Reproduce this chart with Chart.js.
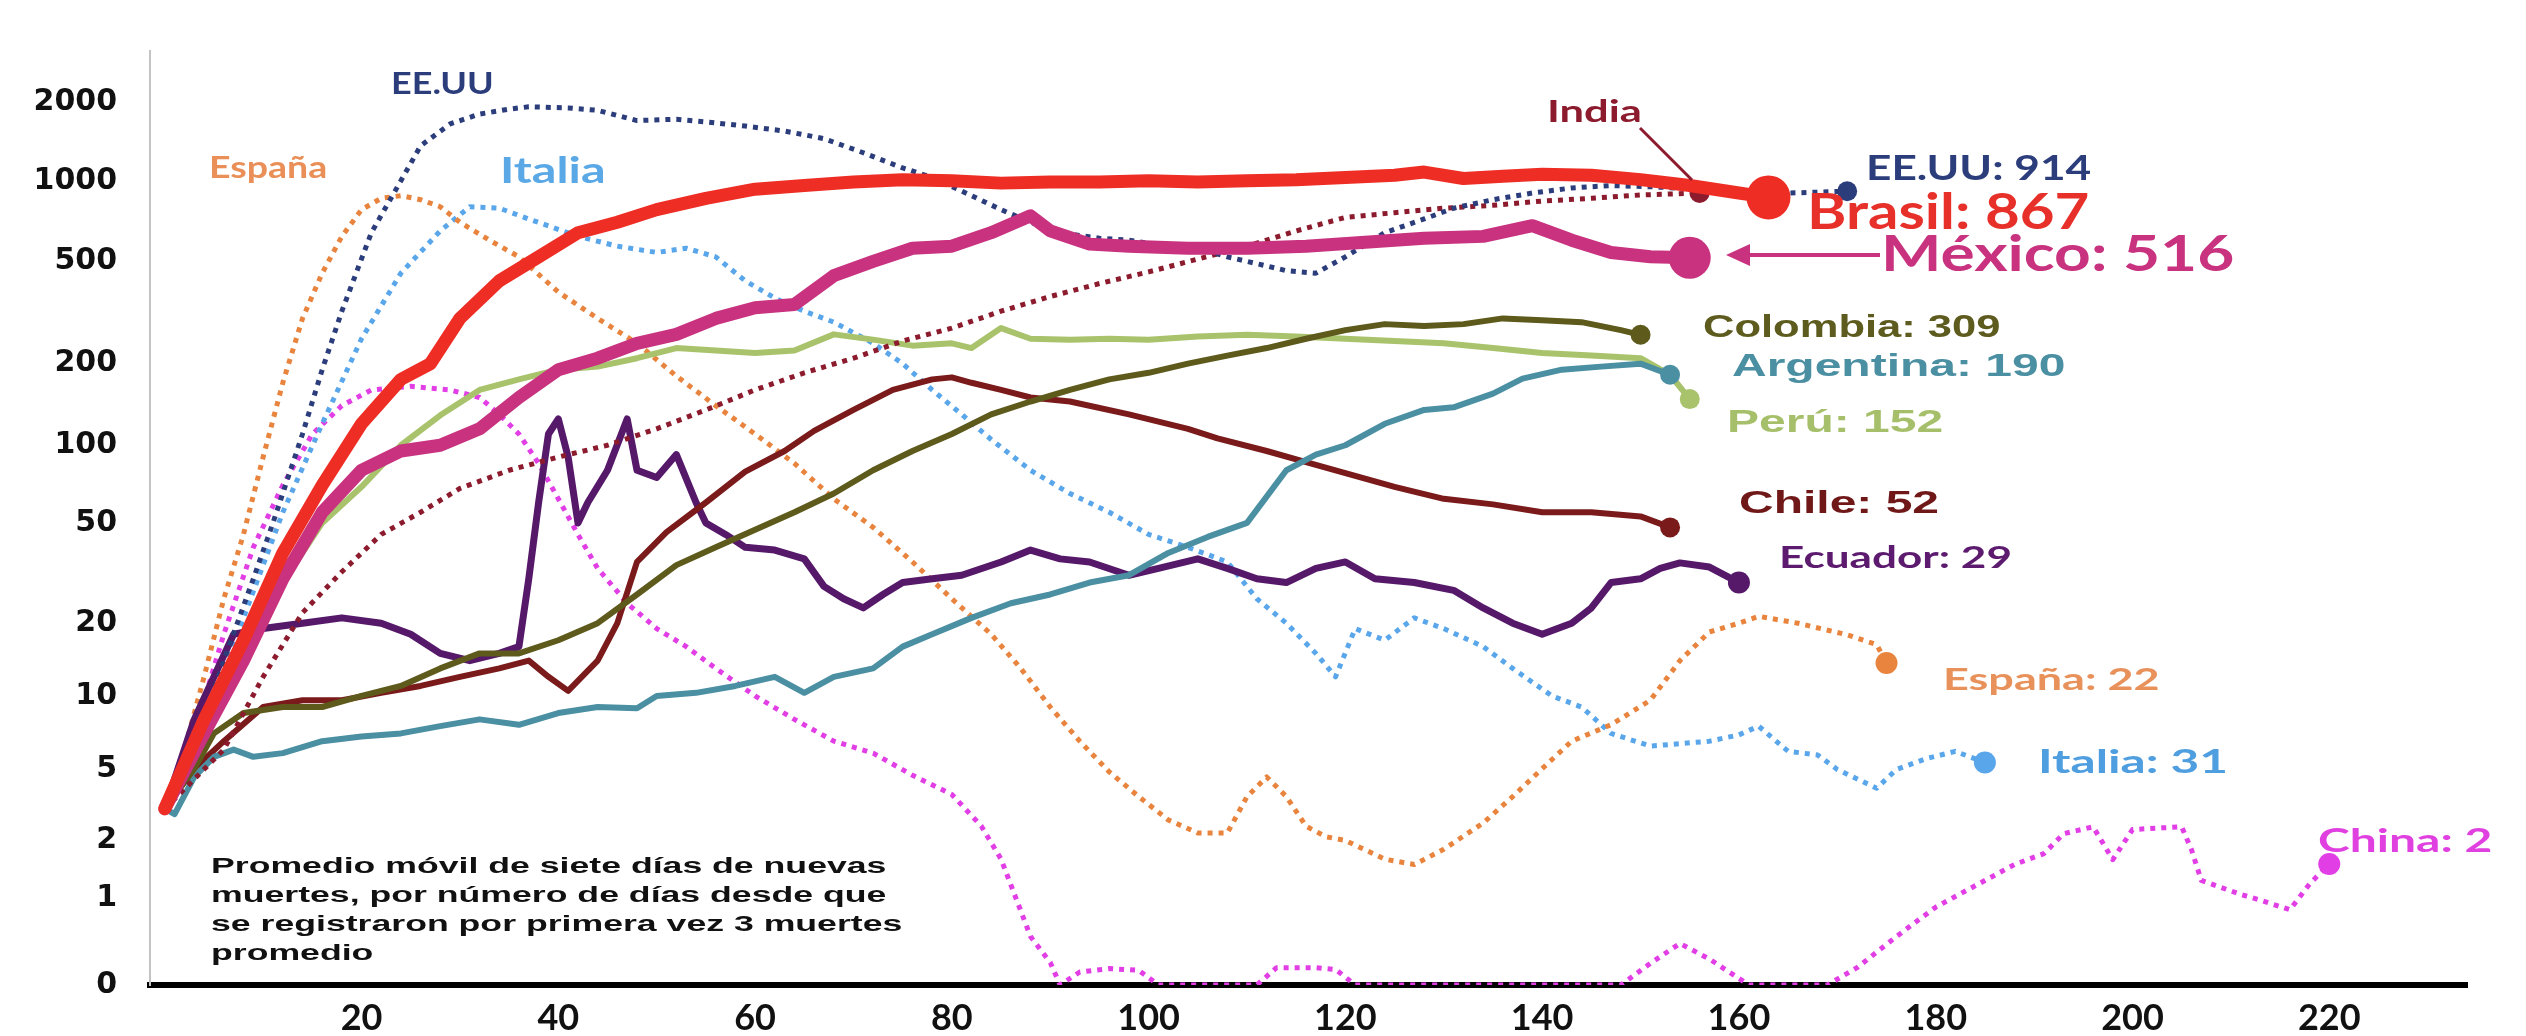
<!DOCTYPE html>
<html>
<head>
<meta charset="utf-8">
<script src="https://cdn.jsdelivr.net/npm/chart.js@4.4.1/dist/chart.umd.min.js"></script>
<style>
  html, body { margin: 0; background: #fff; }
  #wrap { width: 2526px; height: 1036px; }
</style>
</head>
<body>
<div id="wrap"><canvas id="c" width="2526" height="1036"></canvas></div>
<script>
// x ticks (days) and the y tick labels of the original chart
const xTicks = [20, 40, 60, 80, 100, 120, 140, 160, 180, 200, 220];
const yTickValues = [0, 1, 2, 5, 10, 20, 50, 100, 200, 500, 1000, 2000];
// where those tick labels sit on the axis (px above the zero line), the scale is hand-drawn
const yTickHeights = [0, 88, 147, 220, 294, 368, 470, 549, 632, 736, 818, 898];

// [day, deaths] - 7-day average
const brasil = [[0,3],[4,8],[8,17],[12,38],[16,70],[20,120],[24,175],[27,200],[30,300],[34,420],[38,520],[42,640],[46,700],[50,780],[55,860],[60,930],[65,960],[70,990],[75,1010],[80,1000],[85,980],[90,990],[95,990],[100,1000],[105,990],[110,1000],[115,1010],[120,1030],[125,1050],[128,1080],[132,1020],[136,1040],[140,1060],[145,1050],[150,1010],[155,960],[160,900],[163,867]];
const mexico = [[0,3],[4,7],[8,14],[12,30],[16,55],[20,80],[24,95],[28,100],[32,115],[36,150],[40,190],[44,210],[48,240],[52,260],[56,300],[60,330],[64,340],[68,440],[72,500],[76,560],[80,570],[84,640],[88,740],[90,650],[94,580],[98,570],[104,560],[110,560],[116,570],[122,590],[128,610],[134,620],[139,680],[143,600],[147,540],[151,520],[155,516]];
const india = [[0,3],[6,6],[10,12],[14,22],[18,32],[22,45],[26,55],[30,68],[35,80],[40,90],[45,100],[50,115],[55,135],[60,160],[65,185],[70,210],[75,245],[80,275],[85,320],[90,365],[95,410],[100,455],[105,510],[110,570],[115,650],[120,730],[125,760],[130,790],[135,810],[140,840],[145,860],[150,885],[156,900]];
const eeuu = [[0,3],[3,6],[6,14],[9,30],[11,50],[14,110],[16,190],[18,320],[21,640],[24,1000],[26,1360],[29,1650],[32,1800],[35,1880],[37,1920],[41,1900],[44,1860],[48,1700],[52,1720],[55,1680],[59,1620],[63,1550],[67,1450],[71,1280],[75,1120],[78,1030],[82,880],[85,780],[88,700],[91,640],[95,610],[98,600],[102,570],[105,560],[108,520],[111,490],[114,460],[117,450],[120,520],[124,640],[128,720],[131,790],[135,850],[139,900],[143,940],[147,960],[151,950],[155,935],[160,920],[165,900],[171,914]];
const espana = [[0,3],[2,6],[4,12],[6,25],[8,45],[10,90],[12,170],[14,300],[16,450],[18,620],[20,780],[22,860],[24,880],[26,850],[28,800],[30,700],[33,600],[36,520],[40,380],[44,300],[48,240],[52,180],[56,140],[60,110],[64,85],[68,62],[72,48],[76,35],[80,25],[84,18],[87,13],[90,9],[93,6.5],[96,4.8],[99,3.5],[102,2.6],[105,2.2],[108,2.2],[110,3.5],[112,4.5],[114,3.5],[116,2.4],[118,2.1],[120,2],[124,1.6],[127,1.5],[130,1.8],[134,2.5],[137,3.5],[140,5],[143,6.5],[147,7.6],[151,9.6],[154,14],[157,18.4],[160,20],[162,21.3],[166,20],[171,17.9],[174,16.3],[175,13.7]];
const italia = [[0,3],[3,6],[5,10],[8,21],[12,55],[16,120],[20,250],[24,450],[28,650],[31,800],[34,790],[37,720],[42,620],[46,570],[50,540],[53,560],[56,520],[59,420],[62,360],[65,320],[68,290],[72,240],[75,200],[78,160],[81,130],[84,105],[88,80],[92,65],[96,55],[100,45],[104,40],[108,35],[111,25],[114,20],[117,15],[119,12],[121,19],[124,17],[127,21],[130,19],[134,16],[137,13],[141,10],[144,9],[147,7],[151,6.2],[157,6.5],[160,6.9],[162,7.5],[165,5.9],[168,5.7],[170,4.95],[174,3.9],[176,4.95],[179,5.5],[182,5.9],[185,5.3]];
const china = [[0,3],[3,7],[6,18],[9,40],[12,70],[15,110],[18,140],[21,160],[25,165],[29,160],[32,150],[34,130],[36,110],[38,85],[40,62],[42,45],[44,33],[47,24],[50,19],[53,16],[56,13],[60,10],[64,8],[68,6.5],[72,5.8],[76,4.6],[80,3.6],[83,2.4],[85,1.6],[88,0.56],[90,0.26],[91,0],[93,0.15],[96,0.19],[99,0.17],[101,0],[111,0],[113,0.2],[117,0.2],[119,0.18],[121,0],[148,0],[151,0.25],[154,0.48],[157,0.3],[161,0],[169,0],[172,0.2],[176,0.56],[180,0.9],[185,1.24],[188,1.5],[191,1.71],[193,2.18],[196,2.38],[198,1.59],[200,2.3],[203,2.35],[205,2.38],[206,1.79],[207,1.24],[211,1.05],[213,0.98],[216,0.87],[218,1.19],[220,1.51]];
const colombia = [[0,3],[3,5],[5,7],[8,8.5],[12,9],[16,9],[20,10],[24,11],[28,13],[32,15],[36,15],[40,17],[44,20],[48,26],[52,34],[56,40],[60,47],[64,55],[68,65],[72,80],[76,95],[80,110],[84,130],[88,145],[92,160],[96,175],[100,185],[104,200],[108,215],[112,230],[116,250],[120,270],[124,285],[128,280],[132,285],[136,300],[140,295],[144,290],[148,270],[150,259]];
const argentina = [[0,3],[1,2.8],[3,4.5],[5,5.6],[7,6],[9,5.6],[12,5.8],[16,6.5],[20,6.8],[24,7],[28,7.5],[32,8],[36,7.6],[40,8.5],[44,9],[48,8.9],[50,10],[54,10.3],[58,11],[62,12],[65,10.3],[68,12],[72,13],[75,16],[78,18],[82,21],[86,24],[90,26],[94,29],[98,31],[102,38],[106,44],[110,50],[114,80],[117,92],[120,100],[124,120],[128,135],[131,138],[135,155],[138,176],[142,190],[146,195],[150,200],[153,182]];
const peru = [[0,3],[4,7.6],[8,17],[12,29],[16,50],[20,69],[24,100],[28,129],[32,160],[36,175],[40,190],[44,195],[48,210],[52,230],[56,225],[60,220],[64,225],[68,260],[72,248],[76,235],[80,240],[82,230],[85,275],[88,250],[92,248],[96,250],[100,248],[105,255],[110,259],[115,255],[120,250],[125,245],[130,240],[135,230],[140,220],[145,215],[150,210],[153,182],[155,148]];
const chile = [[0,3],[3,5],[6,6.5],[10,9],[14,9.6],[18,9.6],[22,10.3],[26,11],[30,12],[34,13],[37,14],[39,12],[41,10.5],[44,14],[46,20],[48,35],[51,46],[55,60],[59,79],[63,95],[66,113],[70,135],[74,160],[78,175],[80,178],[82,170],[85,160],[88,150],[92,145],[98,130],[104,115],[107,106],[112,95],[116,86],[120,78],[125,69],[130,62],[135,59],[140,55],[145,55],[150,53],[153,48]];
const ecuador = [[0,3],[3,8],[5,12],[7,18],[10,19],[14,20],[18,21],[22,20],[25,18],[28,15],[31,14],[34,15],[36,16],[37,30],[38,60],[39,110],[40,125],[41,90],[42,50],[43,60],[45,80],[47,125],[48,80],[50,75],[52,92],[54,60],[55,50],[57,45],[59,40],[62,39],[65,36],[67,28],[69,25],[71,23],[73,26],[75,29],[78,30],[81,31],[85,35],[88,39],[91,36],[94,35],[98,31],[101,33],[105,36],[108,33],[111,30],[114,29],[117,33],[120,35],[123,30],[127,29],[131,27],[134,23],[137,20],[140,18],[143,20],[145,23],[147,29],[150,30],[152,33],[154,34.7],[157,33.4],[160,29]];

// value -> height on the hand-drawn axis (log between ticks, linear below 1)
function toH(v) {
  if (v <= 0) return 0;
  const n = yTickValues.length;
  let i = 0;
  while (i < n - 2 && v > yTickValues[i + 1]) i++;
  const a = yTickValues[i], b = yTickValues[i + 1];
  const f = i === 0 ? v : Math.log(v / a) / Math.log(b / a);
  return yTickHeights[i] + f * (yTickHeights[i + 1] - yTickHeights[i]);
}

const DOT = [5, 6];
const series = [
  { data: brasil, color: '#ee2d24', width: 13, dash: [], r: 22 },
  { data: mexico, color: '#c8327f', width: 13, dash: [], r: 21 },
  { data: eeuu, color: '#2c3d7c', width: 5, dash: DOT, r: 10 },
  { data: india, color: '#8c1b2e', width: 5, dash: DOT, r: 10 },
  { data: colombia, color: '#5d5a1c', width: 6, dash: [], r: 10 },
  { data: argentina, color: '#4b8fa2', width: 6, dash: [], r: 10 },
  { data: peru, color: '#a9c36c', width: 6, dash: [], r: 10 },
  { data: chile, color: '#7b1a1a', width: 6, dash: [], r: 10 },
  { data: ecuador, color: '#56196a', width: 7, dash: [], r: 11 },
  { data: espana, color: '#e8843e', width: 5, dash: DOT, r: 11 },
  { data: italia, color: '#5aa6ea', width: 5, dash: DOT, r: 11 },
  { data: china, color: '#e23ee6', width: 5, dash: DOT, r: 11 }
];

const datasets = series.map(s => ({
  data: s.data.map(([d, v]) => ({ x: d, y: toH(v) })),
  borderColor: s.color,
  backgroundColor: s.color,
  borderWidth: s.width,
  borderDash: s.dash,
  borderCapStyle: s.dash.length ? 'butt' : 'round',
  borderJoinStyle: 'round',
  fill: false,
  tension: 0,
  pointRadius: ctx => ctx.dataIndex === s.data.length - 1 ? s.r : 0,
  pointHoverRadius: 0,
  pointBorderWidth: 0,
  pointBackgroundColor: s.color
}));

const labels = [
  { text: 'EE.UU', x: 391, y: 94, font: 'bold 30px Lato', sx: 1.2, color: '#2c3d7c' },
  { text: 'España', x: 209, y: 178, font: 'bold 30px Lato', sx: 1.25, color: '#e98f57' },
  { text: 'Italia', x: 500, y: 183, font: 'bold 36px Lato', sx: 1.35, color: '#5aa9e6' },
  { text: 'India', x: 1547, y: 122, font: 'bold 30px Lato', sx: 1.45, color: '#8c1b2e' },
  { text: 'EE.UU: 914', x: 1866, y: 180, font: 'bold 34px Lato', sx: 1.3, color: '#2c3d7c' },
  { text: 'Brasil: 867', x: 1807, y: 229, font: 'bold 50px Lato', sx: 1.2, color: '#e8302a' },
  { text: 'México: 516', x: 1881, y: 271, font: 'bold 50px Lato', sx: 1.28, color: '#c8327f' },
  { text: 'Colombia: 309', x: 1703, y: 337, font: 'bold 32px "Liberation Sans"', sx: 1.36, color: '#5e5b1e' },
  { text: 'Argentina: 190', x: 1732, y: 376, font: 'bold 32px "Liberation Sans"', sx: 1.5, color: '#4b8fa2' },
  { text: 'Perú: 152', x: 1727, y: 432, font: 'bold 32px "Liberation Sans"', sx: 1.5, color: '#a6bf6a' },
  { text: 'Chile: 52', x: 1739, y: 513, font: 'bold 32px "Liberation Sans"', sx: 1.5, color: '#701818' },
  { text: 'Ecuador: 29', x: 1779, y: 568, font: 'bold 30px Lato', sx: 1.47, color: '#5d1b6f' },
  { text: 'España: 22', x: 1943, y: 690, font: 'bold 30px Lato', sx: 1.5, color: '#e8915a' },
  { text: 'Italia: 31', x: 2038, y: 773, font: 'bold 32px Lato', sx: 1.55, color: '#4f9ee0' },
  { text: 'China: 2', x: 2318, y: 852, font: 'bold 32px Lato', sx: 1.5, color: '#e040e0' }
];

const noteLines = [
  'Promedio móvil de siete días de nuevas',
  'muertes, por número de días desde que',
  'se registraron por primera vez 3 muertes',
  'promedio'
];

function drawText(ctx, t) {
  ctx.save();
  ctx.font = t.font;
  ctx.fillStyle = t.color;
  ctx.textBaseline = 'alphabetic';
  ctx.translate(t.x, t.y);
  ctx.scale(t.sx, 1);
  ctx.fillText(t.text, 0, 0);
  ctx.restore();
}

const annotations = {
  id: 'annotations',
  afterDatasetsDraw(chart) {
    const ctx = chart.ctx;
    labels.forEach(t => drawText(ctx, t));
    noteLines.forEach((line, i) => drawText(ctx, {
      text: line, x: 211, y: 873 + i * 29, font: 'bold 22px "Liberation Sans"', sx: 1.62, color: '#111'
    }));
    ctx.save();
    // India pointer
    ctx.strokeStyle = '#8c1b2e';
    ctx.lineWidth = 3;
    ctx.beginPath();
    ctx.moveTo(1640, 128);
    ctx.lineTo(1692, 180);
    ctx.stroke();
    // México arrow
    ctx.strokeStyle = '#c8327f';
    ctx.fillStyle = '#c8327f';
    ctx.lineWidth = 4;
    ctx.beginPath();
    ctx.moveTo(1880, 255);
    ctx.lineTo(1745, 255);
    ctx.stroke();
    ctx.beginPath();
    ctx.moveTo(1726, 255);
    ctx.lineTo(1750, 244);
    ctx.lineTo(1750, 266);
    ctx.closePath();
    ctx.fill();
    ctx.restore();
  }
};

new Chart(document.getElementById('c'), {
  type: 'line',
  data: { datasets },
  options: {
    responsive: false,
    animation: false,
    layout: { padding: { top: 40, right: 59, bottom: 0, left: 0 } },
    plugins: { legend: { display: false }, tooltip: { enabled: false } },
    scales: {
      x: {
        type: 'linear',
        min: -1.5,
        max: 234,
        afterBuildTicks: a => { a.ticks = xTicks.map(v => ({ value: v })); },
        afterFit: a => { a.height = 46; },
        grid: { display: false, drawTicks: false },
        border: { display: true, color: '#000', width: 6 },
        ticks: {
          autoSkip: false, maxRotation: 0, padding: 12, color: '#111',
          font: { family: 'Lato', weight: 'bold', size: 36 }
        }
      },
      y: {
        type: 'linear',
        min: 0,
        max: 950,
        afterBuildTicks: a => { a.ticks = yTickHeights.map(v => ({ value: v })); },
        afterFit: a => { a.width = 150; },
        grid: { display: false, drawTicks: false },
        border: { display: true, color: '#c4c4c4', width: 2, dash: [3, 5] },
        ticks: {
          padding: 33, color: '#111',
          font: { family: 'DejaVu Sans', weight: 'bold', size: 30 },
          callback: v => {
            const i = yTickHeights.indexOf(v);
            return i < 0 ? '' : String(yTickValues[i]);
          }
        }
      }
    }
  },
  plugins: [annotations]
});
</script>
</body>
</html>
